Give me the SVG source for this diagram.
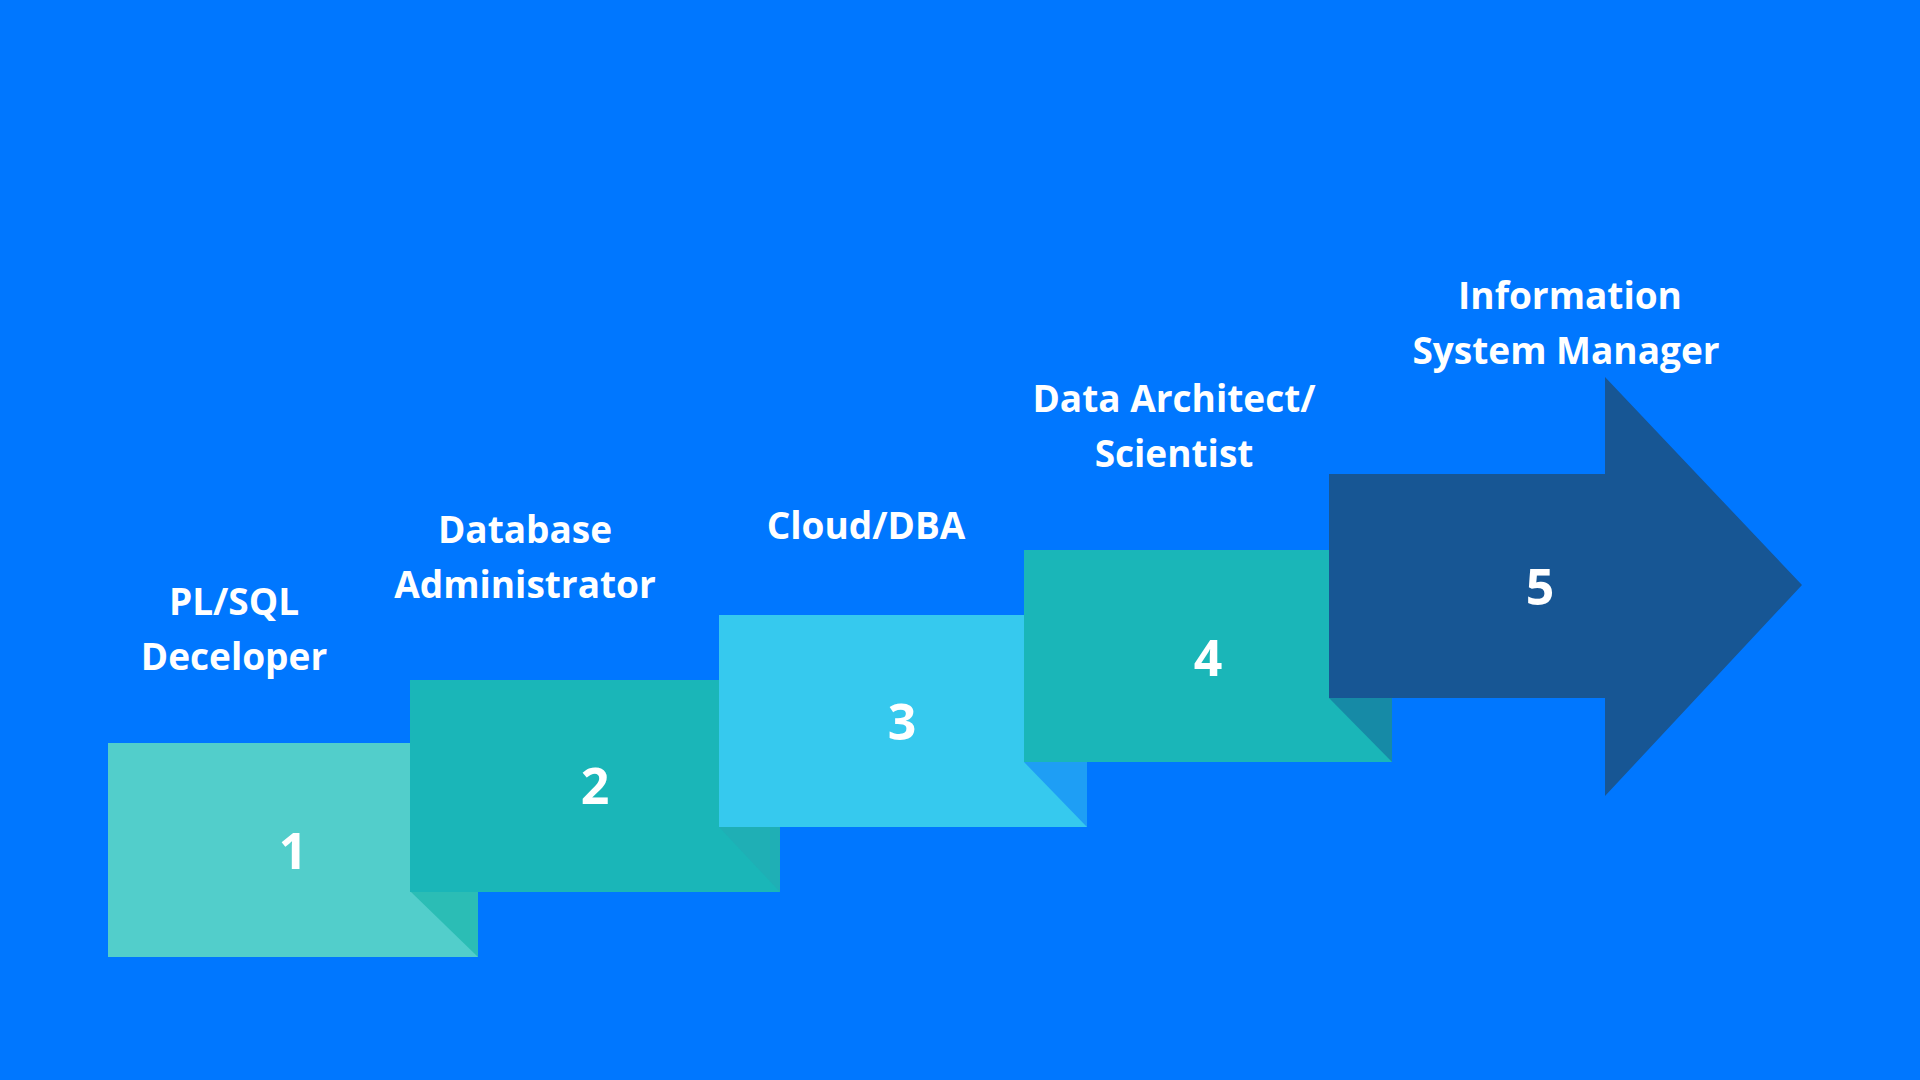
<svg xmlns="http://www.w3.org/2000/svg" width="1920" height="1080" viewBox="0 0 1920 1080">
<style>
.lbl{font-family:"Open Sans","Liberation Sans",sans-serif;font-weight:700;font-size:37px;fill:#fff;text-anchor:middle}
.num{font-family:"Open Sans","Liberation Sans",sans-serif;font-weight:700;font-size:50px;fill:#fff;text-anchor:middle}
</style>
<rect width="1920" height="1080" fill="#0077FF"/>
<g id="step1">
<rect x="108" y="743" width="370" height="214" fill="#52CECB"/>
<polygon points="410,891 478,891 478,957" fill="#2BBDB5"/>
<text class="num" x="293" y="869">1</text>
<text class="lbl" x="234" y="615">PL/SQL</text>
<text class="lbl" x="234" y="670">Deceloper</text>
</g>
<g id="step2">
<rect x="410" y="680" width="370" height="212" fill="#1AB6B8"/>
<polygon points="719,827 780,827 780,892" fill="#1FAFB5"/>
<text class="num" x="595" y="804">2</text>
<text class="lbl" x="525" y="543">Database</text>
<text class="lbl" x="525" y="598">Administrator</text>
</g>
<g id="step3">
<rect x="719" y="615" width="368" height="212" fill="#36C9EE"/>
<polygon points="1024,762 1087,762 1087,827" fill="#1E9EF5"/>
<text class="num" x="902" y="740">3</text>
<text class="lbl" x="866" y="539">Cloud/DBA</text>
</g>
<g id="step4">
<rect x="1024" y="550" width="368" height="212" fill="#1AB6B8"/>
<polygon points="1329,698 1392,698 1392,762" fill="#168AA6"/>
<text class="num" x="1208" y="676">4</text>
<text class="lbl" x="1174" y="412">Data Architect/</text>
<text class="lbl" x="1174" y="467">Scientist</text>
</g>
<g id="step5">
<polygon points="1329,474 1605,474 1605,377 1802,585 1605,796 1605,698 1329,698" fill="#175694"/>
<text class="num" x="1540" y="605">5</text>
<text class="lbl" x="1570" y="309">Information</text>
<text class="lbl" x="1566" y="364">System Manager</text>
</g>
<g id="connectors"></g>
</svg>
